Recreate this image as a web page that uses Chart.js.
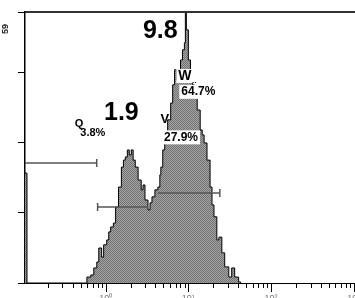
<!DOCTYPE html>
<html>
<head>
<meta charset="utf-8">
<script src="https://cdn.jsdelivr.net/npm/chart.js@4.4.1/dist/chart.umd.min.js"></script>
<style>
  html, body { margin: 0; padding: 0; background: #fff; overflow: hidden; }
  #histChart { display: block; }
</style>
</head>
<body>
<canvas id="histChart" width="380" height="298"></canvas>
<script>
// histogram bins (left edge of each bin, log-scaled fluorescence) and counts
const binEdges = [0.106, 0.112, 0.594, 0.662, 0.719, 0.782, 0.826, 0.895, 0.946, 1.03, 1.09, 1.15,
  1.24, 1.32, 1.43, 1.55, 1.64, 1.73, 1.83, 1.93, 2.04, 2.15, 2.28, 2.47, 2.69, 2.83, 2.99,
  3.25, 3.44, 3.63, 3.94, 4.28, 4.52, 4.65, 4.90, 5.18, 5.62, 6.11, 6.46, 6.81, 7.19, 7.60,
  8.04, 8.49, 8.95, 9.20, 9.46, 10.0, 10.6, 11.2, 11.8, 12.8, 13.9, 14.7, 15.5, 16.8, 18.3,
  19.3, 20.4, 22.1, 23.4, 25.4, 27.5, 30.8, 33.4, 36.3, 40.5, 42.8];
const counts = [31.4, 0, 1.7, 2.3, 4.3, 6.0, 10.0, 7.4, 10.9, 12.3, 14.6, 16.0,
  17.1, 21.7, 27.4, 33.1, 35.1, 36.0, 38.0, 36.6, 38.0, 35.1, 33.1, 29.4, 26.6, 28.0, 23.7,
  20.9, 22.9, 24.6, 26.6, 27.4, 30.9, 33.1, 38.0, 40.9, 46.6, 51.4, 56.6, 60.9, 58.0, 60.9,
  63.7, 66.6, 68.6, 85.0, 72.3, 63.7, 58.9, 56.6, 54.3, 49.4, 43.7, 42.3, 40.0, 35.1, 27.4,
  22.3, 18.9, 12.3, 13.1, 8.6, 4.6, 1.7, 4.3, 1.7, 0.3, 0];

// gates
const gateNames = ['Q', 'V', 'W'];
const gateStart = [0.106, 0.80, 4.28];
const gateEnd = [0.78, 3.25, 24.0];
const gateLevel = [34.3, 21.7, 25.7];
const gateCapStart = [0, 4, 0];
const gateCapEnd = [4, 0, 4];

// labels: text, x, y (data units)
const labelText = ['9.8', '1.9', 'Q', '3.8%', 'W', '64.7%', 'V', '27.9%'];
const labelX = [4.58, 1.55, 0.477, 0.70, 9.08, 13.2, 5.18, 8.14];
const labelY = [72.0, 48.6, 45.4, 42.9, 59.1, 54.6, 46.6, 41.6];
const labelFont = ['bold 25px Arial', 'bold 25px Arial', 'bold 11px Arial', 'bold 11px Arial',
  'bold 14px Arial', 'bold 12px Arial', 'bold 13px Arial', 'bold 12px Arial'];
const labelBox = [false, false, false, false, true, true, false, true];

const yMax = 77.4;
const xMin = 0.106;
const xMax = 1778;

// dithered grey fill
const pat = document.createElement('canvas');
pat.width = 2; pat.height = 2;
const pctx = pat.getContext('2d');
pctx.fillStyle = '#a6a6a6'; pctx.fillRect(0, 0, 2, 2);
pctx.fillStyle = '#707070'; pctx.fillRect(0, 0, 1, 1); pctx.fillRect(1, 1, 1, 1);
const fillPattern = pctx.createPattern(pat, 'repeat');

const histData = binEdges.map((x, i) => ({ x: x, y: counts[i] }));

const gateSets = gateNames.map((name, i) => ({
  label: name,
  data: [{ x: gateStart[i], y: gateLevel[i] }, { x: gateEnd[i], y: gateLevel[i] }],
  borderColor: '#555',
  borderWidth: 1.5,
  pointStyle: 'line',
  rotation: 90,
  pointRadius: [gateCapStart[i], gateCapEnd[i]],
  pointBorderColor: '#555',
  pointBorderWidth: 1.5,
  fill: false,
  order: 1
}));

const isDecade = v => Math.abs(Math.log10(v) - Math.round(Math.log10(v))) < 1e-6;
const sup = ['⁻¹', '⁰', '¹', '²', '³'];

const decorPlugin = {
  id: 'decor',
  afterDatasetsDraw(chart) {
    const ctx = chart.ctx;
    const xs = chart.scales.x, ys = chart.scales.y;
    const area = chart.chartArea;
    ctx.save();
    // top frame line
    ctx.strokeStyle = '#333';
    ctx.lineWidth = 2;
    ctx.beginPath();
    ctx.moveTo(area.left, area.top);
    ctx.lineTo(area.right, area.top);
    ctx.stroke();

    // x tick marks
    ctx.strokeStyle = '#000';
    ctx.lineWidth = 1;
    for (let d = -1; d <= 3; d++) {
      for (let k = 1; k <= 9; k++) {
        const v = k * Math.pow(10, d);
        if (v < xMin || v > xMax) continue;
        const px = Math.round(xs.getPixelForValue(v)) + 0.5;
        const len = k === 1 ? 9 : 5;
        ctx.beginPath();
        ctx.moveTo(px, area.bottom);
        ctx.lineTo(px, area.bottom + len);
        ctx.stroke();
      }
    }

    // labels
    ctx.textAlign = 'center';
    ctx.textBaseline = 'middle';
    labelText.forEach((t, i) => {
      const px = xs.getPixelForValue(labelX[i]);
      const py = ys.getPixelForValue(labelY[i]);
      ctx.font = labelFont[i];
      if (labelBox[i]) {
        const w = ctx.measureText(t).width;
        ctx.fillStyle = '#fff';
        ctx.fillRect(px - w / 2 - 2, py - 7, w + 4, 14);
      }
      ctx.fillStyle = '#000';
      ctx.fillText(t, px, py);
    });
    // small marks beside W
    ctx.font = 'bold 8px Arial';
    ctx.fillText('..', xs.getPixelForValue(11.8), ys.getPixelForValue(57.8));

    // axis title
    ctx.translate(6, 29);
    ctx.rotate(-Math.PI / 2);
    ctx.font = 'bold 9px Arial';
    ctx.fillStyle = '#222';
    ctx.fillText('59', 0, 0);
    ctx.restore();
  }
};

new Chart(document.getElementById('histChart').getContext('2d'), {
  type: 'line',
  data: {
    datasets: [
      ...gateSets,
      {
        label: 'histogram',
        data: histData,
        stepped: 'before',
        borderColor: '#000',
        borderWidth: 1,
        backgroundColor: fillPattern,
        fill: 'origin',
        pointRadius: 0,
        order: 2
      }
    ]
  },
  options: {
    responsive: false,
    animation: false,
    layout: { padding: { top: 12, right: 0, left: 0, bottom: 0 } },
    plugins: { legend: { display: false }, tooltip: { enabled: false } },
    scales: {
      x: {
        type: 'logarithmic',
        min: xMin,
        max: xMax,
        afterFit: s => { s.height = 15; s.paddingLeft = 0; s.paddingRight = 0; },
        border: { color: '#000', width: 1 },
        grid: { display: false, drawTicks: false },
        ticks: {
          autoSkip: false,
          maxRotation: 0,
          padding: 10,
          color: '#777',
          font: { family: 'Arial', size: 9 },
          callback: v => isDecade(v) ? '10' + sup[Math.round(Math.log10(v)) + 1] : ''
        }
      },
      y: {
        min: 0,
        max: yMax,
        afterFit: s => { s.width = 25; },
        border: { color: '#000', width: 1.5 },
        grid: { drawOnChartArea: false, tickLength: 7, tickColor: '#000', tickWidth: 1 },
        ticks: { stepSize: 20, display: false }
      }
    }
  },
  plugins: [decorPlugin]
});
</script>
</body>
</html>
